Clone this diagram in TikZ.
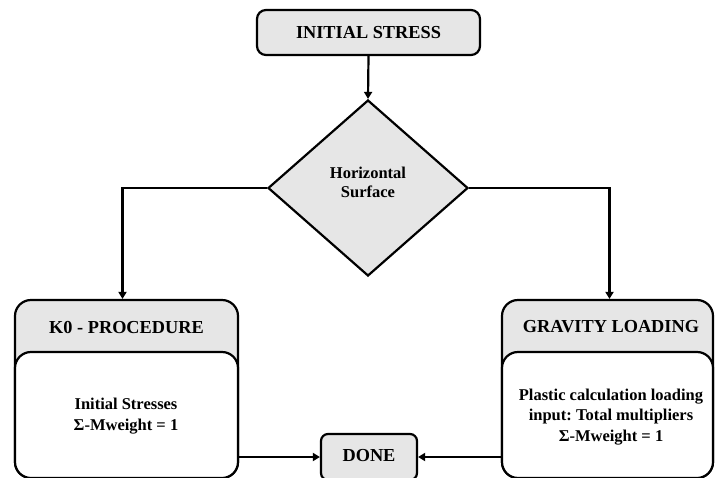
\documentclass[tikz,border=0pt]{standalone}
\usepackage{fontspec}
\setmainfont{Liberation Serif}
\usetikzlibrary{shapes.geometric,arrows.meta}
\definecolor{boxgray}{HTML}{E6E6E6}
\frenchspacing
\tikzset{
  conn/.style={line width=2.2pt,-{Triangle[length=7pt,width=8pt]}},
  graybox/.style={draw,line width=2.2pt,fill=boxgray,inner sep=0pt},
  whitebox/.style={draw,line width=2.2pt,fill=white,inner sep=0pt,rounded corners=16pt},
  headtxt/.style={font=\bfseries\fontsize{18.3}{21}\selectfont,align=center},
  bodytxt/.style={font=\bfseries\fontsize{16.5}{20.5}\selectfont,align=center},
}
\begin{document}
\begin{tikzpicture}[x=1pt,y=-1pt]
\useasboundingbox (0,0) rectangle (715,477);
\clip (0,0) rectangle (715,477);
% top box
\node[graybox,rounded corners=9pt,minimum width=223pt,minimum height=45pt] (init) at (368.5,32.5) {};
\node[headtxt] (initt) at (368.5,32.5) {INITIAL STRESS};
% diamond
\node[graybox,diamond,minimum width=200pt,minimum height=176pt] (dec) at (368,188) {};
\node[font=\bfseries\fontsize{16.5}{19}\selectfont,align=center] (dect) at (368,182) {Horizontal\\Surface};
% K0 box
\node[graybox,rounded corners=16pt,minimum width=223pt,minimum height=178pt] (k0) at (126.5,389) {};
\node[whitebox,minimum width=223pt,minimum height=126pt] (k0b) at (126.5,415) {};
\node[headtxt] (k0t) at (126.5,327) {K0 - PROCEDURE};
\node[bodytxt] (k0bt) at (126,416) {Initial Stresses\\Σ-Mweight = 1};
% Gravity box
\node[graybox,rounded corners=16pt,minimum width=211pt,minimum height=178pt] (gr) at (607.5,389) {};
\node[whitebox,minimum width=211pt,minimum height=126pt] (grb) at (607.5,415) {};
\node[headtxt] (grt) at (611,327) {GRAVITY LOADING};
\node[bodytxt] (grbt) at (611,417) {Plastic calculation loading\\input: Total multipliers\\Σ-Mweight = 1};
% DONE box
\node[graybox,rounded corners=7pt,minimum width=96pt,minimum height=46pt] (done) at (369,457) {};
\node[headtxt] (donet) at (369,456) {DONE};
% connectors
\draw[conn] (init.south) -- (dec.north);
\draw[conn] (dec.west) -| ([xshift=-4pt]k0.north);
\draw[conn] (dec.east) -| ([xshift=2pt]gr.north);
\draw[conn] (done.west -| k0.east) -- (done.west);
\draw[conn] (done.east -| gr.west) -- (done.east);
\end{tikzpicture}
\end{document}
